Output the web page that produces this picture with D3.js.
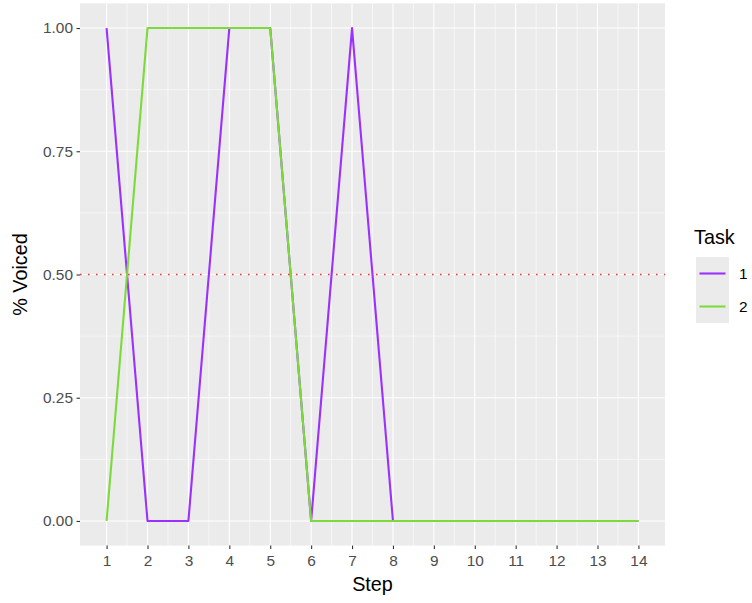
<!DOCTYPE html>
<html><head><meta charset="utf-8">
<script src="https://cdn.jsdelivr.net/npm/d3@7"></script>
<style>body{margin:0;background:#fff}text{font-family:"Liberation Sans",Arial,sans-serif}</style>
</head><body><svg id="c" width="752" height="603"></svg>
<script>
const steps = [1,2,3,4,5,6,7,8,9,10,11,12,13,14];
const task1 = [1,0,0,1,1,0,1,0,0,0,0,0,0,0];
const task2 = [0,1,1,1,1,0,0,0,0,0,0,0,0,0];
const seriesNames = ["1","2"];
const seriesColors = ["#9B30FF","#7CDA3C"];
const yTicks = [0,0.25,0.5,0.75,1];
const refLine = 0.5;

const svg = d3.select("#c");
const L=80,R=665,T=3.4,B=545.6;
const x = d3.scaleLinear().domain([0.35,14.65]).range([L,R]);
const y = d3.scaleLinear().domain([-0.05,1.05]).range([B,T]);

svg.append("rect").attr("x",L).attr("y",T).attr("width",R-L).attr("height",B-T).attr("fill","#EBEBEB");
const g = svg.append("g");
const xMinor = d3.range(1.5,14,1);
const yMinor = [0.125,0.375,0.625,0.875];
g.selectAll(".xm").data(xMinor).join("line").attr("x1",d=>x(d)).attr("x2",d=>x(d)).attr("y1",T).attr("y2",B).attr("stroke","#fff").attr("stroke-width",0.55);
g.selectAll(".ym").data(yMinor).join("line").attr("y1",d=>y(d)).attr("y2",d=>y(d)).attr("x1",L).attr("x2",R).attr("stroke","#fff").attr("stroke-width",0.55);
g.selectAll(".xM").data(steps).join("line").attr("x1",d=>x(d)).attr("x2",d=>x(d)).attr("y1",T).attr("y2",B).attr("stroke","#fff").attr("stroke-width",1.1);
g.selectAll(".yM").data(yTicks).join("line").attr("y1",d=>y(d)).attr("y2",d=>y(d)).attr("x1",L).attr("x2",R).attr("stroke","#fff").attr("stroke-width",1.1);

svg.append("line").attr("x1",L).attr("x2",R).attr("y1",y(refLine)).attr("y2",y(refLine))
  .attr("stroke","#FF3030").attr("stroke-width",1.6).attr("stroke-dasharray","1.6,6.4");

const line = d3.line().x((d,i)=>x(steps[i])).y(d=>y(d));
[task1,task2].forEach((s,i)=>{
  svg.append("path").attr("d",line(s)).attr("fill","none").attr("stroke",seriesColors[i]).attr("stroke-width",2.1).attr("stroke-linejoin","round");
});

const xa = svg.append("g").attr("transform",`translate(0,${B})`)
  .call(d3.axisBottom(x).tickValues(steps).tickSize(3.5).tickPadding(3).tickFormat(d3.format("d")));
const ya = svg.append("g").attr("transform",`translate(${L},0)`)
  .call(d3.axisLeft(y).tickValues(yTicks).tickSize(3.5).tickPadding(3.5).tickFormat(d3.format(".2f")));
[xa,ya].forEach(a=>{
  a.select(".domain").remove();
  a.selectAll(".tick line").attr("stroke","#333").attr("stroke-width",1.1);
  a.selectAll(".tick text").attr("fill","#4D4D4D").style("font-size","15.4px");
});
xa.selectAll(".tick text").attr("dy","0.88em");

svg.append("text").attr("x",(L+R)/2).attr("y",591).attr("text-anchor","middle").style("font-size","19.8px").attr("fill","#000").text("Step");
svg.append("text").attr("transform",`translate(27,${(T+B)/2}) rotate(-90)`).attr("text-anchor","middle").style("font-size","19.8px").attr("fill","#000").text("% Voiced");

const lg = svg.append("g");
lg.append("text").attr("x",694).attr("y",244).style("font-size","19.8px").text("Task");
seriesNames.forEach((n,i)=>{
  const yy = 257 + i*33;
  lg.append("rect").attr("x",696).attr("y",yy).attr("width",33).attr("height",33).attr("fill","#EBEBEB");
  lg.append("line").attr("x1",699.5).attr("x2",725.5).attr("y1",yy+16.5).attr("y2",yy+16.5).attr("stroke",seriesColors[i]).attr("stroke-width",2.1);
  lg.append("text").attr("x",739).attr("y",yy+22).style("font-size","15.4px").text(n);
});
</script></body></html>
